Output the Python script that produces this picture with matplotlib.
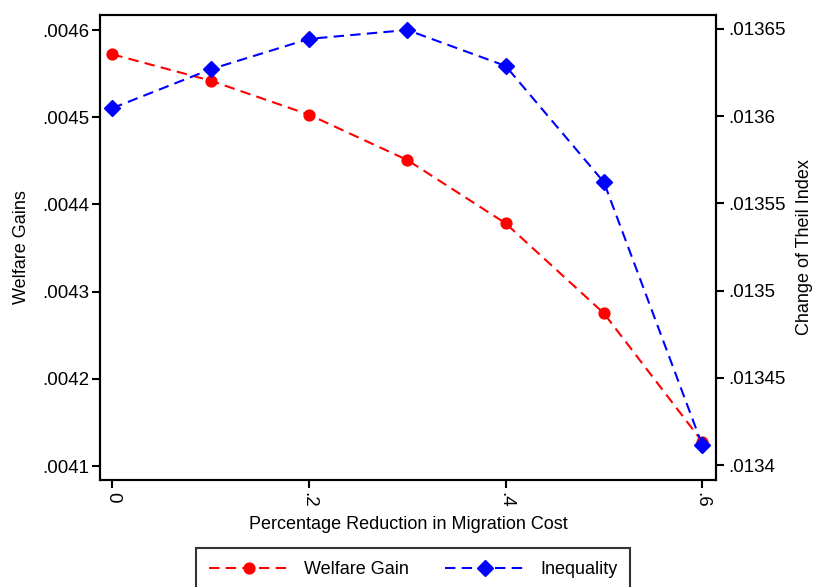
import matplotlib
matplotlib.use("Agg")
import matplotlib.pyplot as plt

plt.rcParams['font.family'] = ['Liberation Sans', 'DejaVu Sans']
plt.rcParams['font.size'] = 13

# Share of migration cost removed
reduction = [0.0, 0.1, 0.2, 0.3, 0.4, 0.5, 0.6]
# Welfare gains (left axis)
welfare = [0.0045721, 0.0045419, 0.0045029, 0.0044509, 0.0043783, 0.0042751, 0.0041280]
# Change of Theil index (right axis)
theil = [0.0136046, 0.0136269, 0.0136443, 0.0136494, 0.0136288, 0.0135621, 0.0134114]

x_ticks = [0.0, 0.2, 0.4, 0.6]
x_labels = ["0", ".2", ".4", ".6"]
left_ticks = [0.0041, 0.0042, 0.0043, 0.0044, 0.0045, 0.0046]
left_labels = [".0041", ".0042", ".0043", ".0044", ".0045", ".0046"]
right_ticks = [0.0134, 0.01345, 0.0135, 0.01355, 0.0136, 0.01365]
right_labels = [".0134", ".01345", ".0135", ".01355", ".0136", ".01365"]

fig = plt.figure(figsize=(8.15, 5.87), dpi=100)
ax = fig.add_axes([100 / 815, 1 - 480 / 587, 616 / 815, 465 / 587])
ax2 = ax.twinx()

dash = (0, (5, 3))
l1, = ax.plot(reduction, welfare, color="#ff0000", linestyle=dash, linewidth=1.5,
              marker="o", markersize=7.8, label="Welfare Gain")
l2, = ax2.plot(reduction, theil, color="#0000ff", linestyle=dash, linewidth=1.5,
               marker="D", markersize=7.8, label="Inequality")

ax.set_xlim(-0.0126, 0.6140)
ax.set_ylim(0.004084, 0.0046172)
ax2.set_ylim(0.0133914, 0.013658)

ax.set_xticks(x_ticks)
ax.set_xticklabels(x_labels, rotation=270)
ax.set_yticks(left_ticks)
ax.set_yticklabels(left_labels)
ax2.set_yticks(right_ticks)
ax2.set_yticklabels(right_labels)

for a in (ax, ax2):
    for s in a.spines.values():
        s.set_linewidth(1.5)
    a.tick_params(length=6, width=1.5, labelsize=13.5)
ax.tick_params(axis="y", pad=2)
ax.tick_params(axis="x", pad=3)
ax2.tick_params(axis="y", pad=3)

ax.set_xlabel("Percentage Reduction in Migration Cost", fontsize=13)
ax.xaxis.set_label_coords(0.5, -0.078)
ax.set_ylabel("Welfare Gains", fontsize=13)
ax.yaxis.set_label_coords(-0.113, 0.5)
ax2.set_ylabel("Change of Theil Index", fontsize=13)
ax2.yaxis.set_label_coords(1.13, 0.5)

leg = fig.legend(handles=[l1, l2], loc="upper center", ncol=2,
                 bbox_to_anchor=(413 / 815, 1 - 548 / 587), borderaxespad=0,
                 frameon=True, fancybox=False, handlelength=4.5,
                 handletextpad=0.78, columnspacing=2.0, borderpad=0.72,
                 fontsize=13)
leg.get_frame().set_edgecolor("black")
leg.get_frame().set_linewidth(1.5)

fig.savefig("out.png", dpi=100)
